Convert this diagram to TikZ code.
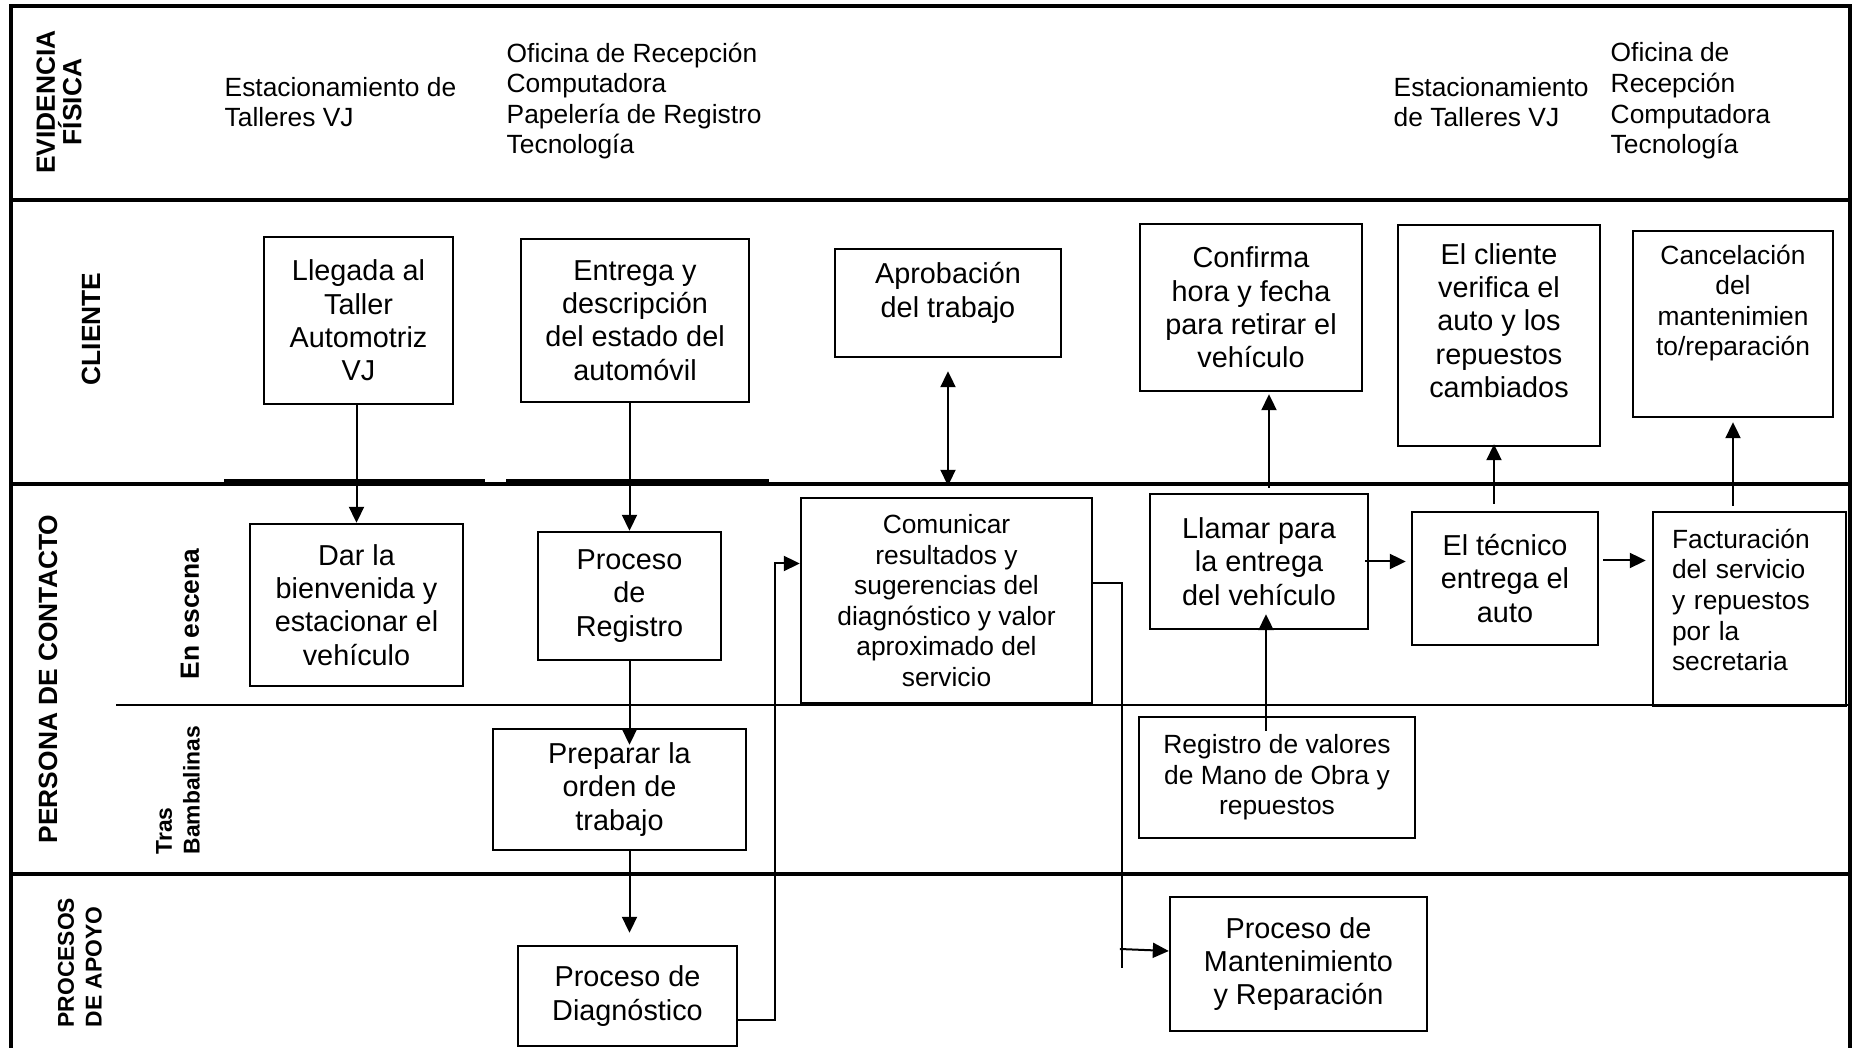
\documentclass[tikz,border=0pt]{standalone}
\usepackage{fontspec}
\setmainfont{Liberation Sans}
\usetikzlibrary{arrows.meta,calc}

\newcommand{\grande}{\fontsize{8.2}{9.5}\selectfont}
\newcommand{\chico}{\fontsize{7.5}{8.7}\selectfont}

\begin{document}
\begin{tikzpicture}[x=0.1mm, y=-0.1mm,
    caja/.style={draw, line width=0.24mm, inner sep=0pt, align=center, font=\grande},
    texto/.style={inner sep=0pt, align=center, font=\grande},
    carril/.style={rotate=90, inner sep=0pt, align=center, font=\bfseries\fontsize{7.5}{7.5}\selectfont},
    subcarril/.style={rotate=90, inner sep=0pt, align=left, anchor=west, font=\bfseries\fontsize{6.5}{7.9}\selectfont},
    evid/.style={inner sep=0pt, align=left, anchor=west, font=\chico},
    divisor/.style={line width=0.32mm},
    flecha/.style={line width=0.2mm, -{Triangle[length=1.6mm, width=1.5mm]}},
    dflecha/.style={line width=0.2mm, {Triangle[length=1.6mm, width=1.5mm]}-{Triangle[length=1.6mm, width=1.5mm]}}]

    \useasboundingbox (0,0) rectangle (1854,1048);

    % Marco y carriles
    \draw[line width=0.35mm] (11,1048) -- (11,6) -- (1850,6) -- (1850,1048);
    \draw[divisor] (11,200) -- (1850,200);
    \draw[divisor] (11,484) -- (1850,484);
    \draw[line width=0.25mm] (116,705) -- (1850,705);
    \draw[divisor] (11,874) -- (1850,874);
    \draw[line width=0.55mm] (224,482) -- (485,482);
    \draw[line width=0.55mm] (506,482) -- (769,482);

    % Nombres de los carriles
    \node[carril] (evidencia) at (59,102) {EVIDENCIA\\FÍSICA};
    \node[carril] (cliente) at (91,329) {CLIENTE};
    \node[carril] (persona) at (48,679) {PERSONA DE CONTACTO};
    \node[carril] (escena) at (190,614) {En escena};
    \node[subcarril] (tras) at (178,855) {Tras\\Bambalinas};
    \node[subcarril] (apoyo) at (80,1028) {PROCESOS\\DE APOYO};

    % Evidencia fisica
    \node[evid] (ev1) at (224,102) {Estacionamiento de\\Talleres VJ};
    \node[evid] (ev2) at (506,101) {Oficina de Recepción\\Computadora\\Papelería de Registro\\Tecnología};
    \node[evid] (ev3) at (1393,102) {Estacionamiento\\de Talleres VJ};
    \node[evid] (ev4) at (1610,101) {Oficina de\\Recepción\\Computadora\\Tecnología};

    % Cliente
    \node[caja, minimum width=18.9mm, minimum height=16.7mm] (llegada) at (358.5,320.5) {Llegada al\\Taller\\Automotriz\\VJ};
    \node[caja, minimum width=22.8mm, minimum height=16.3mm] (entrega) at (635,320.5) {Entrega y\\descripción\\del estado del\\automóvil};
    \node[caja, minimum width=22.6mm, minimum height=10.8mm] (aprob) at (948,303) {};
    \node[texto] (aprobT) at (948,293) {Aprobación\\del trabajo};
    \node[caja, minimum width=22.2mm, minimum height=16.7mm] (confirma) at (1251,307.5) {Confirma\\hora y fecha\\para retirar el\\vehículo};
    \node[caja, minimum width=20.2mm, minimum height=22.1mm] (verifica) at (1499,335.5) {};
    \node[texto] (verificaT) at (1499,320.5) {El cliente\\verifica el\\auto y los\\repuestos\\cambiados};
    \node[caja, minimum width=20.0mm, minimum height=18.6mm] (cancel) at (1733,324) {};
    \node[texto, font=\chico] (cancelT) at (1733,303) {Cancelación\\del\\mantenimien\\to/reparación};

    % En escena
    \node[caja, minimum width=21.3mm, minimum height=16.2mm] (dar) at (356.5,605) {Dar la\\bienvenida y\\estacionar el\\vehículo};
    \node[caja, minimum width=18.3mm, minimum height=12.8mm] (registro) at (629.5,596) {Proceso\\de\\Registro};
    \node[caja, font=\chico, minimum width=29.1mm, minimum height=20.5mm] (comunicar) at (946.5,600.5) {Comunicar\\resultados y\\sugerencias del\\diagnóstico y valor\\aproximado del\\servicio};
    \node[caja, minimum width=21.8mm, minimum height=13.5mm] (llamar) at (1259,561.5) {Llamar para\\la entrega\\del vehículo};
    \node[caja, minimum width=18.6mm, minimum height=13.3mm] (tecnico) at (1505,578.5) {El técnico\\entrega el\\auto};
    \node[caja, minimum width=19.3mm, minimum height=19.4mm] (factura) at (1749.5,609) {};
    \node[texto, font=\chico, align=left, text width=15.5mm] (facturaT) at (1749.5,600) {Facturación\\del servicio\\y repuestos\\por la\\secretaria};

    % Tras bambalinas
    \node[caja, minimum width=25.3mm, minimum height=12.1mm] (preparar) at (619.5,789.5) {Preparar la\\orden de\\trabajo};
    \node[caja, font=\chico, minimum width=27.6mm, minimum height=12.1mm] (valores) at (1277,777.5) {Registro de valores\\de Mano de Obra y\\repuestos};

    % Procesos de apoyo
    \node[caja, minimum width=21.9mm, minimum height=10.0mm] (diagnostico) at (627.5,996) {Proceso de\\Diagnóstico};
    \node[caja, minimum width=25.7mm, minimum height=13.4mm] (manten) at (1298.5,964) {Proceso de\\Mantenimiento\\y Reparación};

    % Flujo
    \draw[flecha] (dar.north |- llegada.south) -- (dar.north);
    \draw[flecha] (registro.north |- entrega.south) -- (registro.north);
    \draw[flecha] (registro.south) -- ($(registro.south |- preparar.north)+(0,17)$);
    \draw[flecha] (registro.south |- preparar.south) -- ($(registro.south |- diagnostico.north)+(0,-12)$);
    \draw[flecha] ($(diagnostico.east)+(0,24)$) -- ++(37,0) |- ($(comunicar.west)+(0,-37)$);
    \draw[dflecha] ($(aprob.south)+(0,13)$) -- ($(aprob.south |- comunicar.north)+(0,-11)$);
    \draw[line width=0.2mm] ($(comunicar.east)+(0,-17.5)$) -| ($(manten.west)+(-47,4)$);
    \draw[flecha] ($(manten.west)+(-49,-15)$) -- ($(manten.west)+(0,-13)$);
    \draw[flecha] ($(valores.north)+(-11,15)$) -- ($(valores.north |- llamar.south)+(-11,-16)$);
    \draw[flecha] ($(llamar.north)+(10,-5)$) -- ($(llamar.north |- confirma.south)+(10,2)$);
    \draw[flecha] ($(llamar.east)+(-4,0)$) -- ($(tecnico.west |- llamar.east)+(-5,0)$);
    \draw[flecha] ($(tecnico.north)+(-11,-7)$) -- ($(tecnico.north |- verifica.south)+(-11,-3)$);
    \draw[flecha] ($(tecnico.east)+(4,-18)$) -- ($(factura.west |- tecnico.east)+(-6,-18)$);
    \draw[flecha] ($(cancel.south |- factura.north)+(0,-5)$) -- ($(cancel.south)+(0,4)$);
\end{tikzpicture}
\end{document}
